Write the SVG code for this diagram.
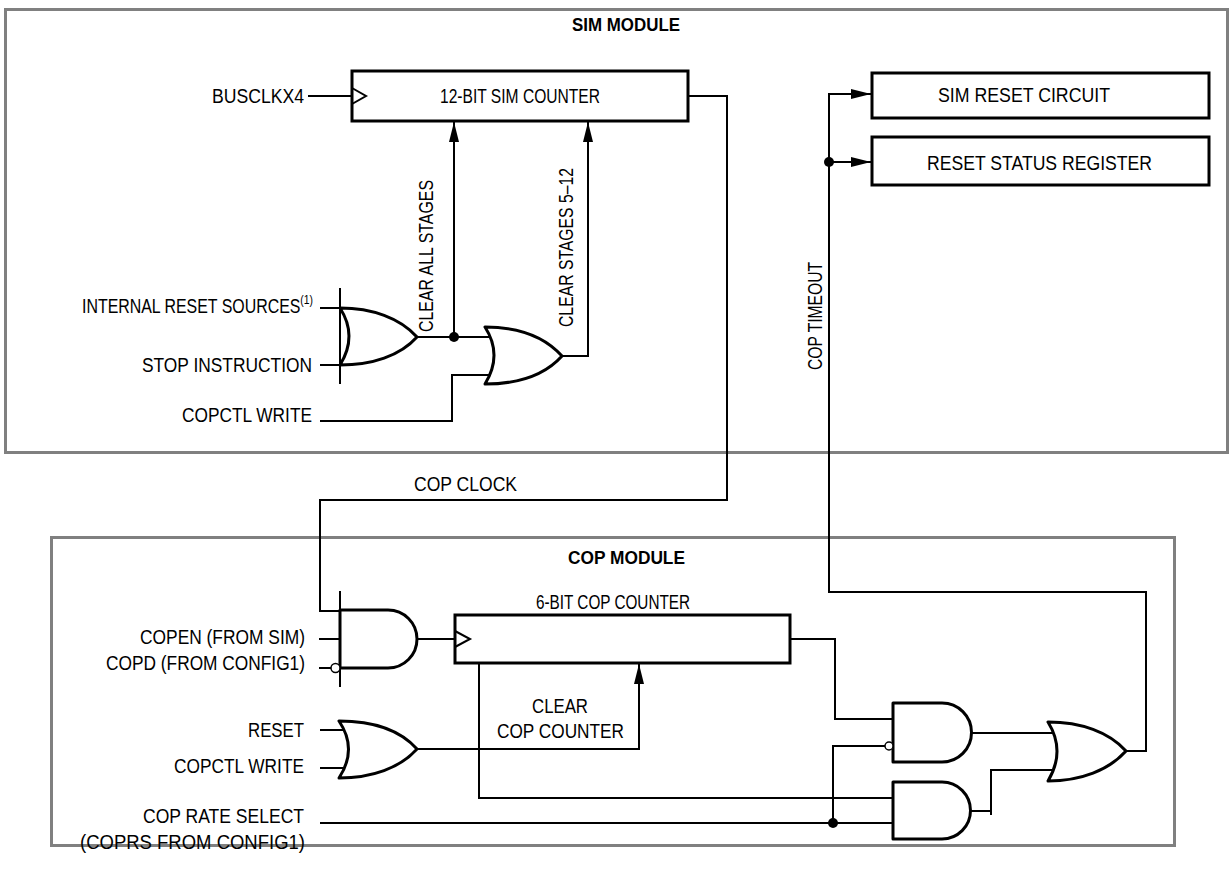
<svg xmlns="http://www.w3.org/2000/svg" width="1231" height="872" viewBox="0 0 1231 872">
<defs>
<style>
.w{stroke:#000;stroke-width:2;fill:none}
.g{stroke:#000;stroke-width:3;fill:#fff;stroke-linejoin:round}
.bx{stroke:#000;stroke-width:3;fill:#fff}
.mod{stroke:#808080;stroke-width:3;fill:none}
.t{font-family:"Liberation Sans",Arial,sans-serif;font-size:20px;fill:#000}
.b{font-weight:bold;font-size:18px}
</style>
<marker id="ar" markerUnits="userSpaceOnUse" markerWidth="20" markerHeight="10" refX="20" refY="5" orient="auto">
<path d="M0,0 L20,5 L0,10 z" fill="#000"/>
</marker>
</defs>
<rect width="1231" height="872" fill="#fff"/>

<g id="sim-module">
<rect class="mod" x="5.5" y="9.5" width="1222" height="443"/>
<text class="t b" x="572" y="31" textLength="108" lengthAdjust="spacingAndGlyphs">SIM MODULE</text>
</g>
<g id="cop-module">
<rect class="mod" x="51.5" y="537.5" width="1123" height="308"/>
<text class="t b" x="568" y="564" textLength="117" lengthAdjust="spacingAndGlyphs">COP MODULE</text>
</g>

<g id="connectors">
<!-- SIM -->
<line class="w" x1="308" y1="96" x2="352" y2="96"/>
<polyline class="w" points="688,96 727,96 727,500 320,500 320,611 340,611"/>
<line class="w" x1="320" y1="308" x2="350" y2="308"/>
<line class="w" x1="320" y1="365" x2="350" y2="365"/>
<line class="w" x1="340" y1="288" x2="340" y2="384"/>
<line class="w" x1="417" y1="337" x2="500" y2="337"/>
<line class="w" x1="454" y1="337" x2="454" y2="122" marker-end="url(#ar)"/>
<polyline class="w" points="320,421 452,421 452,375 500,375"/>
<polyline class="w" points="562,356 588,356 588,122" marker-end="url(#ar)"/>
<polyline class="w" points="1126,751 1146,751 1146,592 829,592 829,94 871,94" marker-end="url(#ar)"/>
<line class="w" x1="829" y1="162" x2="871" y2="162" marker-end="url(#ar)"/>
<circle cx="829" cy="162" r="5" fill="#000"/>
<circle cx="454" cy="337" r="5" fill="#000"/>
<!-- COP -->
<line class="w" x1="319" y1="639" x2="340" y2="639"/>
<line class="w" x1="319" y1="668" x2="331" y2="668"/>
<line class="w" x1="340" y1="591" x2="340" y2="687"/>
<line class="w" x1="417" y1="639" x2="455" y2="639"/>
<polyline class="w" points="790,639 835,639 835,719 900,719"/>
<polyline class="w" points="479,663 479,798 900,798"/>
<line class="w" x1="320" y1="730" x2="350" y2="730"/>
<line class="w" x1="320" y1="768" x2="350" y2="768"/>
<polyline class="w" points="417,749 639,749 639,664" marker-end="url(#ar)"/>
<line class="w" x1="320" y1="823" x2="900" y2="823"/>
<polyline class="w" points="833,823 833,746 885,746"/>
<circle cx="833" cy="823" r="5" fill="#000"/>
<line class="w" x1="971" y1="733" x2="1065" y2="733"/>
<polyline class="w" points="971,811 991,811"/>
<polyline class="w" points="991,815 991,770 1065,770"/>
</g>

<g id="sim-counter">
<rect class="bx" x="352" y="71" width="336" height="50"/>
<polyline class="w" points="352,88 366,96 352,104"/>
<text class="t" x="440" y="103" textLength="160" lengthAdjust="spacingAndGlyphs">12-BIT SIM COUNTER</text>
</g>
<g id="sim-reset-circuit">
<rect class="bx" x="872" y="73" width="337" height="45"/>
<text class="t" x="938" y="102" textLength="172" lengthAdjust="spacingAndGlyphs">SIM RESET CIRCUIT</text>
</g>
<g id="reset-status-register">
<rect class="bx" x="872" y="137" width="337" height="48"/>
<text class="t" x="927" y="170" textLength="225" lengthAdjust="spacingAndGlyphs">RESET STATUS REGISTER</text>
</g>
<g id="sim-or1">
<path class="g" d="M340,308 C372,308 400,318 417,337 C400,356 372,365 340,365 Q358,336 340,308 Z"/>
</g>
<g id="sim-or2">
<path class="g" d="M485,327 C518,327 545,337 562,356 C545,375 518,384 485,384 Q503,355 485,327 Z"/>
</g>

<g id="cop-and1">
<path class="g" d="M340,610 H388 A29,29 0 0 1 388,668 H340 Z"/>
<circle cx="335.5" cy="668" r="4.5" fill="#fff" stroke="#000" stroke-width="1.5"/>
</g>
<g id="cop-counter">
<rect class="bx" x="455" y="615" width="335" height="48"/>
<polyline class="w" points="455,631 470,639 455,647"/>
<text class="t" x="536" y="609" textLength="154" lengthAdjust="spacingAndGlyphs">6-BIT COP COUNTER</text>
</g>
<g id="cop-or1">
<path class="g" d="M339,721 C372,721 400,730 417,749 C400,768 372,778 339,778 Q358,749 339,721 Z"/>
</g>
<g id="cop-and2">
<path class="g" d="M893,703 H942 A29.5,29.5 0 0 1 942,762 H893 Z"/>
<circle cx="889" cy="746" r="4" fill="#fff" stroke="#000" stroke-width="1.5"/>
</g>
<g id="cop-and3">
<path class="g" d="M893,782 H942 A28.5,28.5 0 0 1 942,839 H893 Z"/>
</g>
<g id="cop-or2">
<path class="g" d="M1048,722 C1081,722 1109,732 1126,751 C1109,770 1081,781 1048,781 Q1066,751 1048,722 Z"/>
</g>

<g id="labels">
<text class="t" x="212" y="103" textLength="92" lengthAdjust="spacingAndGlyphs">BUSCLKX4</text>
<text class="t" transform="translate(433,332) rotate(-90)" textLength="152" lengthAdjust="spacingAndGlyphs">CLEAR ALL STAGES</text>
<text class="t" transform="translate(573,327) rotate(-90)" textLength="159" lengthAdjust="spacingAndGlyphs">CLEAR STAGES 5–12</text>
<text class="t" transform="translate(822,370) rotate(-90)" textLength="108" lengthAdjust="spacingAndGlyphs">COP TIMEOUT</text>
<text class="t" x="82" y="313" textLength="231" lengthAdjust="spacingAndGlyphs">INTERNAL RESET SOURCES<tspan font-size="13" dy="-9">(1)</tspan></text>
<text class="t" x="142" y="372" textLength="170" lengthAdjust="spacingAndGlyphs">STOP INSTRUCTION</text>
<text class="t" x="182" y="422" textLength="130" lengthAdjust="spacingAndGlyphs">COPCTL WRITE</text>
<text class="t" x="414" y="491" textLength="103" lengthAdjust="spacingAndGlyphs">COP CLOCK</text>
<text class="t" x="140" y="644" textLength="165" lengthAdjust="spacingAndGlyphs">COPEN (FROM SIM)</text>
<text class="t" x="106" y="670" textLength="199" lengthAdjust="spacingAndGlyphs">COPD (FROM CONFIG1)</text>
<text class="t" x="248" y="737" textLength="56" lengthAdjust="spacingAndGlyphs">RESET</text>
<text class="t" x="174" y="773" textLength="130" lengthAdjust="spacingAndGlyphs">COPCTL WRITE</text>
<text class="t" x="143" y="823" textLength="161" lengthAdjust="spacingAndGlyphs">COP RATE SELECT</text>
<text class="t" x="80" y="849" textLength="225" lengthAdjust="spacingAndGlyphs">(COPRS FROM CONFIG1)</text>
<text class="t" x="532" y="713" textLength="56" lengthAdjust="spacingAndGlyphs">CLEAR</text>
<text class="t" x="497" y="738" textLength="127" lengthAdjust="spacingAndGlyphs">COP COUNTER</text>
</g>
</svg>
